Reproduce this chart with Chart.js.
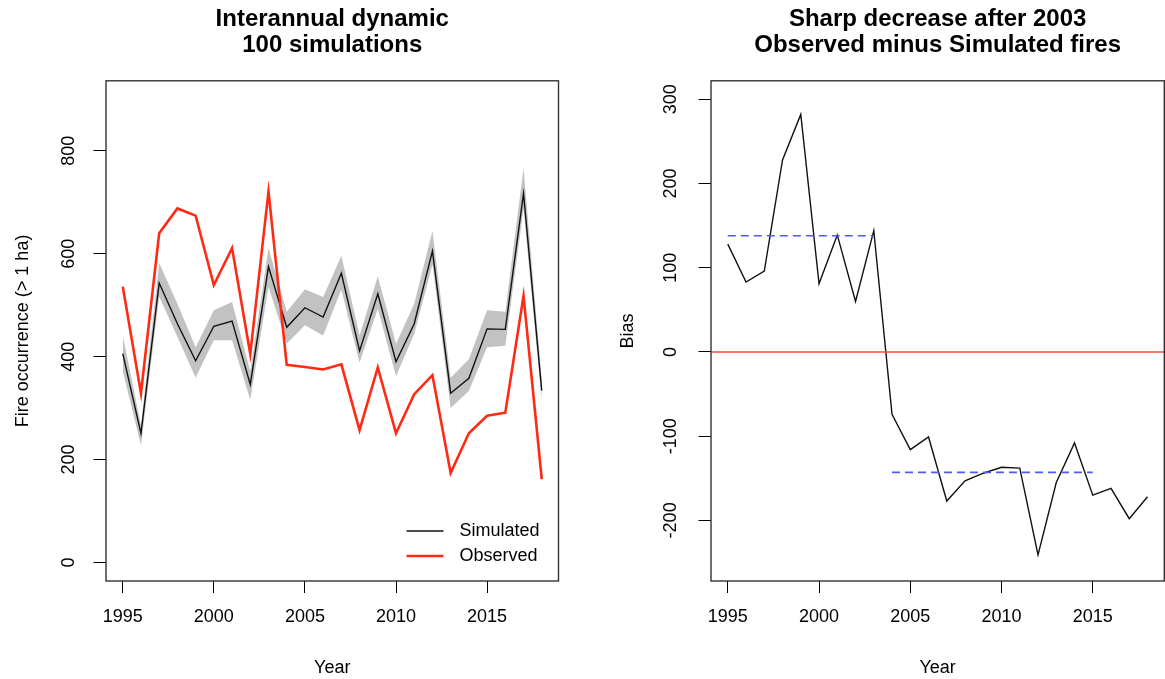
<!DOCTYPE html>
<html lang="en">
<head>
    <meta charset="UTF-8">
    <title>Fire occurrence - simulated vs observed</title>
    <script src="https://cdn.jsdelivr.net/npm/chart.js@4.4.1/dist/chart.umd.min.js"></script>
    <style>
        body {
            margin: 0;
            background: #fff;
            width: 1165px;
            height: 679px;
            overflow: hidden;
            position: relative;
        }
        canvas {
            position: absolute;
            top: 0;
        }
        #leftChart { left: 0; }
        #rightChart { left: 605px; }
    </style>
</head>
<body>
    <canvas id="leftChart" width="605" height="679"></canvas>
    <canvas id="rightChart" width="560" height="679"></canvas>

    <script>
        // data
        const years = [1995, 1996, 1997, 1998, 1999, 2000, 2001, 2002, 2003, 2004, 2005, 2006,
                       2007, 2008, 2009, 2010, 2011, 2012, 2013, 2014, 2015, 2016, 2017, 2018];
        const observed  = [536, 329, 640, 688, 674, 539, 611, 405, 721, 384, 380, 375,
                           385, 257, 379, 251, 327, 364, 174, 251, 285, 291, 518, 162];
        const simulated = [406, 251, 543, 464, 392, 459, 469, 346, 575, 457, 495, 477,
                           562, 411, 522, 390, 464, 605, 329, 358, 454, 453, 717, 334];
        const simUpper  = [441, 267, 582, 503, 418, 490, 506, 372, 611, 487, 531, 516,
                           596, 441, 556, 425, 503, 644, 359, 395, 490, 487, 766, 356];
        const simLower  = [372, 228, 517, 438, 359, 432, 432, 316, 536, 425, 461, 441,
                           530, 388, 493, 362, 444, 579, 300, 333, 418, 421, 687, 313];
        const bias      = [128, 83, 96, 228, 282, 81, 139, 60, 144, -74, -116, -101,
                           -177, -153, -144, -137, -138, -241, -155, -108, -170, -162, -198, -172];

        const periodBefore = [1995, 2003];
        const periodAfter  = [2004, 2015];
        const meanBefore = 138;
        const meanAfter  = -143;

        const xTicks    = [1995, 2000, 2005, 2010, 2015];
        const fireTicks = [0, 200, 400, 600, 800];
        const biasTicks = [-200, -100, 0, 100, 200, 300];

        // R style axis ranges (4% extension)
        const xMin = 1994.08, xMax = 2018.92;
        const fireMin = -36, fireMax = 936;
        const biasMin = -272, biasMax = 322;

        const FONT = "'Liberation Sans', Arial, Helvetica, sans-serif";

        function pts(values) {
            return years.map((x, i) => ({ x: x, y: values[i] }));
        }

        // box around the plot region, like R's box()
        const boxPlugin = {
            id: 'rbox',
            afterDraw(chart) {
                const a = chart.chartArea;
                const ctx = chart.ctx;
                ctx.save();
                ctx.strokeStyle = '#333';
                ctx.lineWidth = 1.4;
                ctx.strokeRect(a.left, a.top, a.right - a.left, a.bottom - a.top);
                ctx.restore();
            }
        };

        // legend without box, bottom right inside the plot
        const legendPlugin = {
            id: 'rlegend',
            afterDatasetsDraw(chart, args, opts) {
                if (!opts.items) return;
                const a = chart.chartArea;
                const ctx = chart.ctx;
                ctx.save();
                ctx.font = '18px ' + FONT;
                ctx.textBaseline = 'middle';
                ctx.fillStyle = '#000';
                opts.items.forEach((it, k) => {
                    const ds = chart.data.datasets[it.index];
                    const y = a.bottom - 50 + k * 25;
                    ctx.strokeStyle = ds.borderColor;
                    ctx.lineWidth = ds.borderWidth;
                    ctx.beginPath();
                    ctx.moveTo(a.right - 152, y);
                    ctx.lineTo(a.right - 115, y);
                    ctx.stroke();
                    ctx.fillText(ds.label, a.right - 99, y);
                });
                ctx.restore();
            }
        };

        function makeOptions(titleLines, yTitle, yMin, yMax, yTicks) {
            return {
                responsive: false,
                animation: false,
                events: [],
                layout: { padding: { top: 6, left: 0, right: 0, bottom: 0 } },
                plugins: {
                    legend: { display: false },
                    tooltip: { enabled: false },
                    title: {
                        display: true,
                        fullSize: false,
                        text: titleLines,
                        color: '#000',
                        font: { family: FONT, size: 24, weight: 'bold', lineHeight: 1.1 },
                        padding: { top: 0, bottom: 22 }
                    }
                },
                scales: {
                    x: {
                        type: 'linear',
                        min: xMin,
                        max: xMax,
                        afterBuildTicks: s => { s.ticks = xTicks.map(v => ({ value: v })); },
                        afterFit: s => { s.height = 98; },
                        grid: { drawOnChartArea: false, drawTicks: true, tickLength: 12, color: '#000' },
                        border: { display: false },
                        ticks: {
                            color: '#000',
                            font: { family: FONT, size: 18 },
                            padding: 13,
                            maxRotation: 0,
                            callback: v => String(v)
                        },
                        title: {
                            display: true,
                            text: 'Year',
                            color: '#000',
                            font: { family: FONT, size: 18 },
                            padding: { top: 0, bottom: 0 }
                        }
                    },
                    y: {
                        type: 'linear',
                        min: yMin,
                        max: yMax,
                        afterBuildTicks: s => { s.ticks = yTicks.map(v => ({ value: v })); },
                        afterFit: s => { s.width = 106; },
                        grid: { drawOnChartArea: false, drawTicks: true, tickLength: 12.5, color: '#000' },
                        border: { display: false },
                        ticks: {
                            color: '#000',
                            font: { family: FONT, size: 18 },
                            minRotation: 90,
                            maxRotation: 90,
                            crossAlign: 'center',
                            padding: 9,
                            callback: v => String(v)
                        },
                        title: {
                            display: true,
                            text: yTitle,
                            color: '#000',
                            font: { family: FONT, size: 18 },
                            padding: { top: 12, bottom: 0 }
                        }
                    }
                }
            };
        }

        // left panel: interannual dynamic
        const leftOptions = makeOptions(['Interannual dynamic', '100 simulations'],
            'Fire occurrence (> 1 ha)', fireMin, fireMax, fireTicks);
        leftOptions.layout.padding.right = 46.5;
        leftOptions.plugins.rlegend = { items: [{ index: 2 }, { index: 3 }] };

        // "order": higher numbers are drawn underneath
        new Chart(document.getElementById('leftChart'), {
            type: 'line',
            data: {
                datasets: [
                    {
                        label: 'upper',
                        data: pts(simUpper),
                        borderColor: 'rgba(0,0,0,0)',
                        borderWidth: 0,
                        pointRadius: 0,
                        fill: false,
                        order: 4
                    },
                    {
                        label: 'lower',
                        data: pts(simLower),
                        borderColor: 'rgba(0,0,0,0)',
                        borderWidth: 0,
                        pointRadius: 0,
                        backgroundColor: '#c2c2c2',
                        fill: '-1',
                        order: 3
                    },
                    {
                        label: 'Simulated',
                        data: pts(simulated),
                        borderColor: '#111',
                        borderWidth: 1.4,
                        pointRadius: 0,
                        fill: false,
                        order: 2
                    },
                    {
                        label: 'Observed',
                        data: pts(observed),
                        borderColor: '#ff2a14',
                        borderWidth: 2.6,
                        pointRadius: 0,
                        fill: false,
                        order: 1
                    }
                ]
            },
            options: leftOptions,
            plugins: [boxPlugin, legendPlugin]
        });

        // right panel: bias
        const rightOptions = makeOptions(['Sharp decrease after 2003', 'Observed minus Simulated fires'],
            'Bias', biasMin, biasMax, biasTicks);
        rightOptions.layout.padding.right = 0.7;

        new Chart(document.getElementById('rightChart'), {
            type: 'line',
            data: {
                datasets: [
                    {
                        label: 'Bias',
                        data: pts(bias),
                        borderColor: '#111',
                        borderWidth: 1.4,
                        pointRadius: 0,
                        fill: false,
                        order: 4
                    },
                    {
                        label: 'zero',
                        data: [{ x: xMin, y: 0 }, { x: xMax, y: 0 }],
                        borderColor: '#ff4a3a',
                        borderWidth: 1.4,
                        pointRadius: 0,
                        fill: false,
                        order: 3
                    },
                    {
                        label: 'mean before',
                        data: periodBefore.map(x => ({ x: x, y: meanBefore })),
                        borderColor: '#4a5cff',
                        borderWidth: 1.7,
                        borderDash: [8, 5],
                        pointRadius: 0,
                        fill: false,
                        order: 2
                    },
                    {
                        label: 'mean after',
                        data: periodAfter.map(x => ({ x: x, y: meanAfter })),
                        borderColor: '#4a5cff',
                        borderWidth: 1.7,
                        borderDash: [8, 5],
                        pointRadius: 0,
                        fill: false,
                        order: 1
                    }
                ]
            },
            options: rightOptions,
            plugins: [boxPlugin]
        });
    </script>
</body>
</html>
